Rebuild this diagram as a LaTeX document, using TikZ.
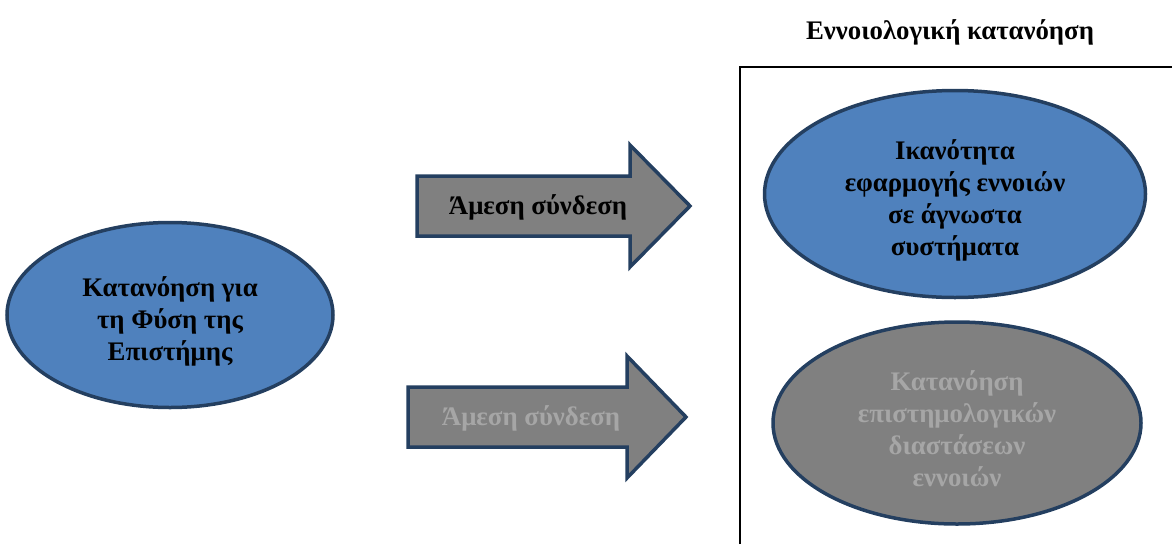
\documentclass[tikz,border=0pt]{standalone}
\usepackage{fontspec}
\setmainfont{Liberation Serif}
\usetikzlibrary{shapes.geometric}
\definecolor{ovalblue}{HTML}{4F81BD}
\definecolor{navyline}{HTML}{243F60}
\definecolor{boxgrey}{HTML}{808080}
\definecolor{dimtext}{HTML}{A6A6A6}
\tikzset{
  oval/.style={ellipse, draw=navyline, line width=3.5pt, inner sep=0pt},
  blueoval/.style={oval, fill=ovalblue},
  greyoval/.style={oval, fill=boxgrey},
  ovaltext/.style={align=center, inner sep=0pt, yshift=-6pt,
    font=\bfseries\fontsize{26.8}{32}\selectfont},
  arrowbody/.style={draw=navyline, fill=boxgrey, line width=3.5pt, line join=miter},
  arrowtext/.style={font=\bfseries\fontsize{26.8}{32}\selectfont, inner sep=0pt},
  heading/.style={font=\bfseries\fontsize{26.8}{32}\selectfont, inner sep=0pt},
  frame/.style={draw=black, line width=1.5pt}
}
\begin{document}
\begin{tikzpicture}[x=1pt,y=-1pt]
\useasboundingbox (0,0) rectangle (1172,544);

% heading and the open frame around the two outcomes
\node[heading] (title) at (950,32) {Εννοιολογική κατανόηση};
\coordinate (frameBL) at (740,544);
\coordinate (frameTL) at (740,67);
\coordinate (frameTR) at (1172,67);
\draw[frame] (frameBL) -- (frameTL) -- (frameTR);

% source concept
\node[blueoval, minimum width=326pt, minimum height=185pt] (nos) at (170,315) {};
\node[ovaltext, text=black] (nos-text) at (nos.center)
  {Κατανόηση για\\τη Φύση της\\Επιστήμης};

% outcomes
\node[blueoval, minimum width=381pt, minimum height=207pt] (apply) at (955,194) {};
\node[ovaltext, text=black] (apply-text) at (apply.center)
  {Ικανότητα\\εφαρμογής εννοιών\\σε άγνωστα\\συστήματα};
\node[greyoval, minimum width=368pt, minimum height=202pt] (epist) at (957,423) {};
\node[ovaltext, text=dimtext] (epist-text) at (epist.center)
  {Κατανόηση\\επιστημολογικών\\διαστάσεων\\εννοιών};

% block arrows
\draw[arrowbody] (417,176) -- (630,176) -- (630,145) -- (690,206) -- (630,267)
  -- (630,236) -- (417,236) -- cycle;
\node[arrowtext, text=black] (link1) at (538,207) {Άμεση σύνδεση};

\draw[arrowbody] (408,387) -- (627,387) -- (627,356) -- (686,417) -- (627,478)
  -- (627,447) -- (408,447) -- cycle;
\node[arrowtext, text=dimtext] (link2) at (531,418) {Άμεση σύνδεση};
\end{tikzpicture}
\end{document}
